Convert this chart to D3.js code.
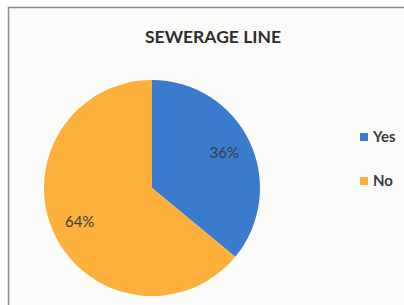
<!DOCTYPE html>
<html>
<head>
<meta charset="utf-8">
<script src="https://cdn.jsdelivr.net/npm/d3@7"></script>
<style>
  body { margin: 0; background: #fff; }
  svg { display: block; }
</style>
</head>
<body>
<script>
// chart data
var categories = ['Yes', 'No'];
var shares = [36, 64];
var sliceLabels = ['36%', '64%'];
var colours = ['#3a7bcd', '#fdb03c'];

var svgWidth = 404;
var svgHeight = 305;

var svg = d3.select("body")
  .append("svg")
  .attr("width", svgWidth)
  .attr("height", svgHeight);

// chart frame
svg.append("rect")
  .attr("x", 8.5)
  .attr("y", 7.5)
  .attr("width", 420)
  .attr("height", 320)
  .attr("fill", "#fbfbfa")
  .attr("stroke", "#8a8a8a")
  .attr("stroke-width", 1.5);

svg.append("text")
  .attr("x", 213)
  .attr("y", 43)
  .attr("text-anchor", "middle")
  .style("font-family", "Lato, 'Open Sans', sans-serif")
  .style("font-weight", "bold")
  .style("font-size", "17.5px")
  .attr("fill", "#2e2e2e")
  .text("SEWERAGE LINE");

var cx = 152, cy = 188, radius = 108;

var pie = d3.pie().sort(null).value(d => d);
var arc = d3.arc().innerRadius(0).outerRadius(radius);
var slices = pie(shares);

var g = svg.append("g").attr("transform", `translate(${cx},${cy})`);

g.selectAll("path")
  .data(slices)
  .enter()
  .append("path")
  .attr("d", arc)
  .attr("fill", (d, i) => colours[i]);

// label positions along each slice
var labelArc = d3.arc().innerRadius(radius * 0.74).outerRadius(radius * 0.74);
g.selectAll("text.lbl")
  .data(slices)
  .enter()
  .append("text")
  .attr("class", "lbl")
  .attr("x", d => labelArc.centroid(d)[0])
  .attr("y", d => labelArc.centroid(d)[1])
  .attr("text-anchor", "middle")
  .attr("dy", "0.3em")
  .style("font-family", "Lato, 'Open Sans', sans-serif")
  .style("font-size", "15px")
  .attr("fill", "#3b3b3b")
  .text((d, i) => sliceLabels[i]);

// legend
var legendY = d3.scalePoint().domain(categories).range([137, 181]);
var legend = svg.selectAll("g.legend")
  .data(categories)
  .enter()
  .append("g")
  .attr("class", "legend")
  .attr("transform", d => `translate(360,${legendY(d)})`);

legend.append("rect")
  .attr("x", 0)
  .attr("y", -4)
  .attr("width", 8)
  .attr("height", 8)
  .attr("fill", (d, i) => colours[i]);

legend.append("text")
  .attr("x", 13)
  .attr("y", 0)
  .attr("dy", "0.35em")
  .style("font-family", "Lato, 'Open Sans', sans-serif")
  .style("font-weight", "bold")
  .style("font-size", "15px")
  .attr("fill", "#3b3b3b")
  .text(d => d);
</script>
</body>
</html>
